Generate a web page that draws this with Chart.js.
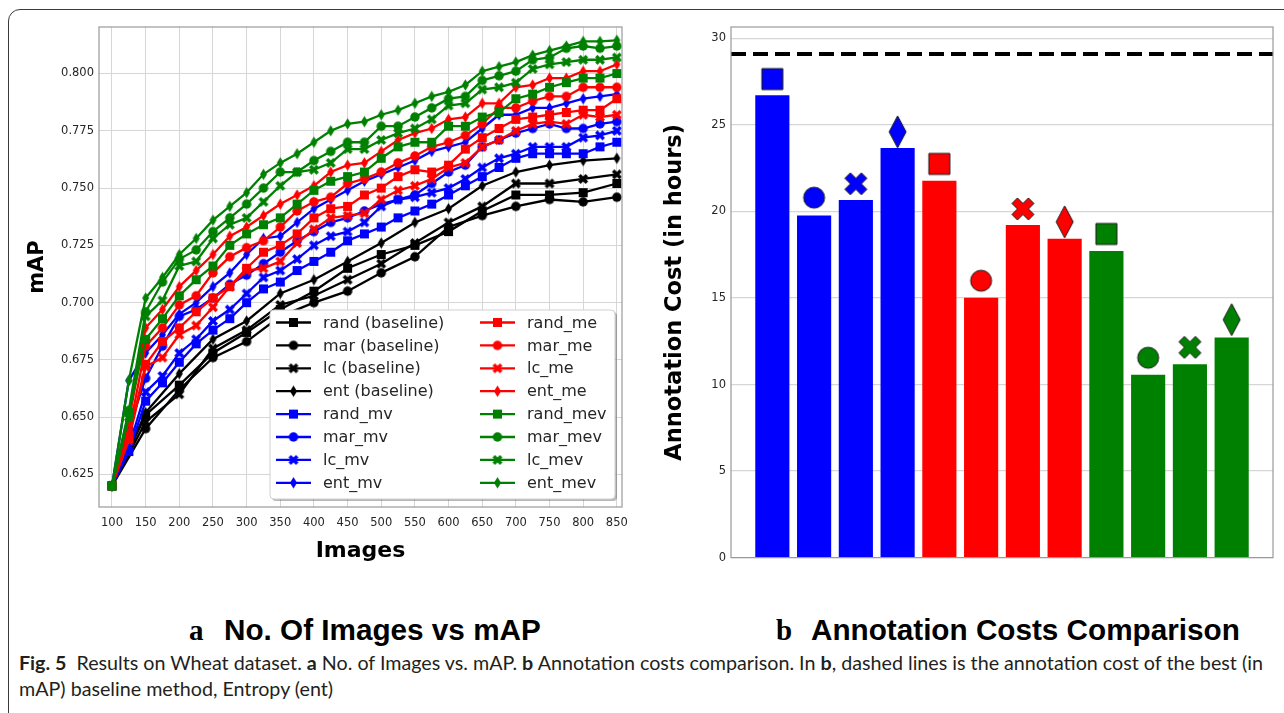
<!DOCTYPE html>
<html>
<head>
<meta charset="utf-8">
<script src="https://cdn.jsdelivr.net/npm/chart.js@4.4.1/dist/chart.umd.min.js"></script>
<style>
  body { margin: 0; width: 1284px; height: 713px; background: #fff; overflow: hidden; position: relative; }
  #frame { position: absolute; left: 8px; top: 9px; width: 1320px; height: 740px; border: 1px solid #3a3a3a; border-radius: 12px; }
  #mapBox { position: absolute; left: 0; top: 0; width: 640px; height: 580px; }
  #costBox { position: absolute; left: 650px; top: 0; width: 634px; height: 590px; }
  .letter { position: absolute; top: 612px; font-family: 'Liberation Serif', serif; font-weight: bold; font-size: 29px; line-height: 36px; color: #000; }
  .sub { position: absolute; top: 612px; font-family: 'Liberation Sans', Arial, sans-serif; font-weight: bold; font-size: 29.7px; line-height: 36px; color: #000; white-space: nowrap; }
  #caption { position: absolute; left: 19px; top: 650px; font-family: 'Lato', sans-serif; font-size: 19.7px; line-height: 26px; color: #231f20; white-space: nowrap; }
</style>
</head>
<body>
<div id="frame"></div>
<div id="mapBox"><canvas id="mapChart" width="640" height="580"></canvas></div>
<div id="costBox"><canvas id="costChart" width="634" height="590"></canvas></div>
<div class="letter" style="left:189px">a</div>
<div class="sub" style="left:224px">No. Of Images vs mAP</div>
<div class="letter" style="left:776px">b</div>
<div class="sub" style="left:811px">Annotation Costs Comparison</div>
<div id="caption"><b>Fig. 5</b>&nbsp;&nbsp;Results on Wheat dataset. <b>a</b> No. of Images vs. mAP. <b>b</b> Annotation costs comparison. In <b>b</b>, dashed lines is the annotation cost of the best (in<br>mAP) baseline method, Entropy (ent)</div>

<script>
// ---- data: panel a (mAP vs number of images) ----
var imagesBaseline = [100, 150, 200, 250, 300, 350, 400, 450, 500, 550, 600, 650, 700, 750, 800, 850];
var imagesMethods = [100, 125, 150, 175, 200, 225, 250, 275, 300, 325, 350, 375, 400, 425, 450, 475,
                     500, 525, 550, 575, 600, 625, 650, 675, 700, 725, 750, 775, 800, 825, 850];

var mapRandBase = [0.620, 0.651, 0.664, 0.678, 0.687, 0.697, 0.705, 0.715, 0.721, 0.725, 0.731, 0.740, 0.747, 0.747, 0.748, 0.752];
var mapMarBase  = [0.620, 0.645, 0.662, 0.676, 0.683, 0.694, 0.700, 0.705, 0.713, 0.720, 0.733, 0.738, 0.742, 0.745, 0.744, 0.746];
var mapLcBase   = [0.620, 0.648, 0.660, 0.680, 0.688, 0.699, 0.703, 0.710, 0.717, 0.726, 0.735, 0.742, 0.752, 0.752, 0.754, 0.756];
var mapEntBase  = [0.620, 0.652, 0.669, 0.684, 0.692, 0.704, 0.710, 0.718, 0.726, 0.735, 0.741, 0.751, 0.757, 0.760, 0.762, 0.763];

var mapRandMv = [0.620, 0.635, 0.657, 0.665, 0.674, 0.682, 0.688, 0.693, 0.700, 0.706, 0.709, 0.714, 0.718, 0.722, 0.727, 0.730,
                 0.733, 0.737, 0.740, 0.743, 0.747, 0.751, 0.755, 0.759, 0.763, 0.765, 0.765, 0.765, 0.765, 0.768, 0.770];
var mapMarMv  = [0.620, 0.645, 0.667, 0.681, 0.694, 0.697, 0.702, 0.708, 0.712, 0.717, 0.722, 0.727, 0.731, 0.735, 0.737, 0.740,
                 0.743, 0.745, 0.747, 0.752, 0.757, 0.760, 0.768, 0.771, 0.774, 0.776, 0.778, 0.776, 0.776, 0.778, 0.779];
var mapLcMv   = [0.620, 0.637, 0.661, 0.668, 0.678, 0.684, 0.692, 0.697, 0.704, 0.711, 0.714, 0.719, 0.725, 0.729, 0.731, 0.735,
                 0.742, 0.745, 0.746, 0.748, 0.750, 0.754, 0.759, 0.763, 0.765, 0.768, 0.768, 0.768, 0.772, 0.773, 0.775];
var mapEntMv  = [0.620, 0.666, 0.678, 0.686, 0.695, 0.700, 0.707, 0.713, 0.721, 0.728, 0.729, 0.735, 0.741, 0.745, 0.749, 0.753,
                 0.756, 0.759, 0.762, 0.766, 0.768, 0.770, 0.776, 0.782, 0.782, 0.785, 0.785, 0.787, 0.789, 0.790, 0.791];

var mapRandMe = [0.620, 0.641, 0.673, 0.683, 0.689, 0.696, 0.702, 0.707, 0.715, 0.722, 0.725, 0.730, 0.737, 0.741, 0.742, 0.747,
                 0.750, 0.755, 0.758, 0.757, 0.760, 0.767, 0.772, 0.776, 0.780, 0.781, 0.782, 0.783, 0.784, 0.784, 0.789];
var mapMarMe  = [0.620, 0.643, 0.681, 0.689, 0.699, 0.703, 0.713, 0.720, 0.724, 0.727, 0.733, 0.740, 0.744, 0.746, 0.752, 0.754,
                 0.757, 0.761, 0.764, 0.768, 0.770, 0.773, 0.778, 0.785, 0.785, 0.788, 0.790, 0.790, 0.794, 0.794, 0.794];
var mapLcMe   = [0.620, 0.640, 0.672, 0.676, 0.686, 0.690, 0.698, 0.707, 0.714, 0.715, 0.718, 0.726, 0.732, 0.737, 0.738, 0.739,
                 0.745, 0.749, 0.751, 0.754, 0.759, 0.761, 0.768, 0.771, 0.775, 0.778, 0.779, 0.778, 0.782, 0.781, 0.782];
var mapEntMe  = [0.620, 0.648, 0.689, 0.697, 0.707, 0.714, 0.721, 0.729, 0.733, 0.738, 0.743, 0.747, 0.751, 0.757, 0.760, 0.761,
                 0.766, 0.771, 0.774, 0.776, 0.780, 0.781, 0.787, 0.787, 0.794, 0.795, 0.798, 0.798, 0.801, 0.801, 0.804];

var mapRandMev = [0.620, 0.652, 0.684, 0.693, 0.703, 0.710, 0.716, 0.725, 0.730, 0.734, 0.737, 0.743, 0.749, 0.753, 0.755, 0.757,
                  0.763, 0.768, 0.770, 0.770, 0.777, 0.777, 0.781, 0.783, 0.789, 0.791, 0.794, 0.796, 0.798, 0.798, 0.800];
var mapMarMev  = [0.620, 0.653, 0.696, 0.709, 0.719, 0.723, 0.731, 0.737, 0.743, 0.750, 0.757, 0.757, 0.762, 0.766, 0.770, 0.770,
                  0.777, 0.777, 0.781, 0.785, 0.789, 0.790, 0.797, 0.799, 0.801, 0.806, 0.807, 0.811, 0.812, 0.811, 0.812];
var mapLcMev   = [0.620, 0.650, 0.694, 0.701, 0.716, 0.718, 0.728, 0.734, 0.737, 0.744, 0.751, 0.757, 0.758, 0.761, 0.767, 0.767,
                  0.771, 0.774, 0.776, 0.780, 0.786, 0.787, 0.793, 0.794, 0.796, 0.802, 0.804, 0.805, 0.806, 0.806, 0.807];
var mapEntMev  = [0.620, 0.666, 0.702, 0.711, 0.721, 0.728, 0.736, 0.742, 0.748, 0.756, 0.761, 0.765, 0.770, 0.775, 0.778, 0.779,
                  0.782, 0.784, 0.787, 0.790, 0.792, 0.795, 0.801, 0.803, 0.805, 0.808, 0.810, 0.812, 0.814, 0.814, 0.8145];

var mapTicks = [0.625, 0.650, 0.675, 0.700, 0.725, 0.750, 0.775, 0.800];
var imageTicks = [100, 150, 200, 250, 300, 350, 400, 450, 500, 550, 600, 650, 700, 750, 800, 850];

// ---- data: panel b (annotation cost in hours) ----
var costLabels = ['rand_mv', 'mar_mv', 'lc_mv', 'ent_mv', 'rand_me', 'mar_me', 'lc_me', 'ent_me',
                  'rand_mev', 'mar_mev', 'lc_mev', 'ent_mev'];
var costHours = [26.7, 19.75, 20.65, 23.65, 21.75, 15.0, 19.2, 18.4, 17.7, 10.55, 11.15, 12.7];
var costMarkerHours = [27.65, 20.8, 21.6, 24.6, 22.75, 16.0, 20.15, 19.4, 18.7, 11.55, 12.15, 13.75];
var entBaselineCost = 29.1;
var costTicks = [0, 5, 10, 15, 20, 25, 30];

// ---- marker images ----
function makeMarker(shape, fill, w, h, edge) {
  var pad = 2;
  var c = document.createElement('canvas');
  c.width = Math.ceil(w + pad * 2);
  c.height = Math.ceil(h + pad * 2);
  var ctx = c.getContext('2d');
  ctx.translate(c.width / 2, c.height / 2);
  ctx.beginPath();
  if (shape === 'square') {
    ctx.rect(-w / 2, -h / 2, w, h);
  } else if (shape === 'circle') {
    ctx.arc(0, 0, w / 2, 0, Math.PI * 2);
  } else if (shape === 'diamond') {
    ctx.moveTo(0, -h / 2); ctx.lineTo(w / 2, 0); ctx.lineTo(0, h / 2); ctx.lineTo(-w / 2, 0); ctx.closePath();
  } else if (shape === 'x') {
    var p = [[-0.25, -0.5], [0, -0.25], [0.25, -0.5], [0.5, -0.25], [0.25, 0], [0.5, 0.25],
             [0.25, 0.5], [0, 0.25], [-0.25, 0.5], [-0.5, 0.25], [-0.25, 0], [-0.5, -0.25]];
    ctx.moveTo(p[0][0] * w, p[0][1] * h);
    for (var i = 1; i < p.length; i++) ctx.lineTo(p[i][0] * w, p[i][1] * h);
    ctx.closePath();
  }
  ctx.fillStyle = fill;
  ctx.fill();
  if (edge) { ctx.lineWidth = 1; ctx.strokeStyle = edge; ctx.stroke(); }
  return c;
}

var shapes = ['square', 'circle', 'x', 'diamond'];
function smallMarker(shape, color) {
  if (shape === 'diamond') return makeMarker(shape, color, 7, 11.5);
  if (shape === 'x') return makeMarker(shape, color, 10, 10);
  if (shape === 'circle') return makeMarker(shape, color, 9.5, 9.5);
  return makeMarker(shape, color, 9, 9);
}
function bigMarker(shape, color) {
  if (shape === 'diamond') return makeMarker(shape, color, 17, 32, '#1a1a1a');
  if (shape === 'x') return makeMarker(shape, color, 22, 22, '#1a1a1a');
  return makeMarker(shape, color, 21, 21, '#1a1a1a');
}

// ---- panel a ----
var mapSeries = [
  ['rand (baseline)', imagesBaseline, mapRandBase, '#000000'],
  ['mar (baseline)', imagesBaseline, mapMarBase, '#000000'],
  ['lc (baseline)', imagesBaseline, mapLcBase, '#000000'],
  ['ent (baseline)', imagesBaseline, mapEntBase, '#000000'],
  ['rand_mv', imagesMethods, mapRandMv, '#0000ff'],
  ['mar_mv', imagesMethods, mapMarMv, '#0000ff'],
  ['lc_mv', imagesMethods, mapLcMv, '#0000ff'],
  ['ent_mv', imagesMethods, mapEntMv, '#0000ff'],
  ['rand_me', imagesMethods, mapRandMe, '#ff0000'],
  ['mar_me', imagesMethods, mapMarMe, '#ff0000'],
  ['lc_me', imagesMethods, mapLcMe, '#ff0000'],
  ['ent_me', imagesMethods, mapEntMe, '#ff0000'],
  ['rand_mev', imagesMethods, mapRandMev, '#008000'],
  ['mar_mev', imagesMethods, mapMarMev, '#008000'],
  ['lc_mev', imagesMethods, mapLcMev, '#008000'],
  ['ent_mev', imagesMethods, mapEntMev, '#008000']
];

var mapDatasets = mapSeries.map(function (s, i) {
  return {
    label: s[0],
    data: s[1].map(function (x, j) { return { x: x, y: s[2][j] }; }),
    borderColor: s[3],
    backgroundColor: s[3],
    borderWidth: 2.3,
    pointStyle: smallMarker(shapes[i % 4], s[3]),
    pointRadius: 4,
    pointHoverRadius: 4,
    tension: 0,
    order: mapSeries.length - i
  };
});

var frame = {
  id: 'frame',
  afterDraw: function (chart) {
    var a = chart.chartArea, ctx = chart.ctx;
    ctx.save();
    ctx.strokeStyle = '#999999';
    ctx.lineWidth = 1.2;
    ctx.strokeRect(a.left, a.top, a.right - a.left, a.bottom - a.top);
    ctx.restore();
  }
};

function roundRect(ctx, x, y, w, h, r) {
  ctx.beginPath();
  ctx.moveTo(x + r, y);
  ctx.arcTo(x + w, y, x + w, y + h, r);
  ctx.arcTo(x + w, y + h, x, y + h, r);
  ctx.arcTo(x, y + h, x, y, r);
  ctx.arcTo(x, y, x + w, y, r);
  ctx.closePath();
}

var mapLegend = {
  id: 'mapLegend',
  afterDatasetsDraw: function (chart) {
    var ctx = chart.ctx, a = chart.chartArea;
    var w = 345, h = 189;
    var x0 = a.right - 7 - w, y0 = a.bottom - 8 - h;
    ctx.save();
    ctx.fillStyle = 'rgba(0,0,0,0.28)';
    roundRect(ctx, x0 + 2, y0 + 2, w, h, 4);
    ctx.fill();
    ctx.fillStyle = '#ffffff';
    roundRect(ctx, x0, y0, w, h, 4);
    ctx.fill();
    ctx.strokeStyle = '#d0d0d0';
    ctx.lineWidth = 1;
    ctx.stroke();
    ctx.font = '16px "DejaVu Sans"';
    ctx.textBaseline = 'middle';
    chart.data.datasets.forEach(function (ds, i) {
      var col = Math.floor(i / 8), row = i % 8;
      var lx = x0 + 6 + col * 204, ly = y0 + 12.5 + row * 22.9;
      ctx.strokeStyle = ds.borderColor;
      ctx.lineWidth = 2.3;
      ctx.beginPath();
      ctx.moveTo(lx, ly);
      ctx.lineTo(lx + 35, ly);
      ctx.stroke();
      var m = ds.pointStyle;
      ctx.drawImage(m, lx + 17.5 - m.width / 2, ly - m.height / 2);
      ctx.fillStyle = '#262626';
      ctx.fillText(ds.label, lx + 47, ly + 1);
    });
    ctx.restore();
  }
};

new Chart(document.getElementById('mapChart'), {
  type: 'line',
  data: { datasets: mapDatasets },
  plugins: [frame, mapLegend],
  options: {
    responsive: false,
    animation: false,
    events: [],
    layout: { padding: { top: 27, right: 18, left: 0, bottom: 0 } },
    plugins: { legend: { display: false }, tooltip: { enabled: false } },
    scales: {
      x: {
        type: 'linear',
        min: 80.7,
        max: 857.7,
        afterBuildTicks: function (s) { s.ticks = imageTicks.map(function (v) { return { value: v }; }); },
        afterFit: function (s) { s.height = 73; },
        grid: { color: '#d6d6d6', lineWidth: 1, drawTicks: false },
        border: { display: false },
        ticks: { font: { family: 'DejaVu Sans', size: 11.5 }, color: '#262626', padding: 9, maxRotation: 0 },
        title: { display: true, text: 'Images', color: '#000', font: { family: 'DejaVu Sans', size: 22, weight: 'bold' }, padding: { bottom: 16 } }
      },
      y: {
        min: 0.6108,
        max: 0.8203,
        afterBuildTicks: function (s) { s.ticks = mapTicks.map(function (v) { return { value: v }; }); },
        afterFit: function (s) { s.width = 99; },
        grid: { color: '#d6d6d6', lineWidth: 1, drawTicks: false },
        border: { display: false },
        ticks: { font: { family: 'DejaVu Sans', size: 11.5 }, color: '#262626', padding: 5,
                 callback: function (v) { return v.toFixed(3); } },
        title: { display: true, text: 'mAP', color: '#000', font: { family: 'DejaVu Sans', size: 21, weight: 'bold' }, padding: { top: 25 } }
      }
    }
  }
});

// ---- panel b ----
var groupColors = ['#0000ff', '#ff0000', '#008000'];
var costColors = costLabels.map(function (l, i) { return groupColors[Math.floor(i / 4)]; });
var costMarkerImgs = costLabels.map(function (l, i) { return bigMarker(shapes[i % 4], costColors[i]); });

var baselineLine = {
  id: 'baselineLine',
  afterDatasetsDraw: function (chart) {
    var ctx = chart.ctx, a = chart.chartArea;
    var y = chart.scales.y.getPixelForValue(entBaselineCost);
    ctx.save();
    ctx.strokeStyle = '#000';
    ctx.lineWidth = 4;
    ctx.setLineDash([15, 7]);
    ctx.beginPath();
    ctx.moveTo(a.left, y);
    ctx.lineTo(a.right, y);
    ctx.stroke();
    ctx.restore();
  }
};

new Chart(document.getElementById('costChart'), {
  type: 'bar',
  data: {
    datasets: [
      {
        type: 'scatter',
        label: 'markers',
        data: costMarkerHours.map(function (v, i) { return { x: i, y: v }; }),
        pointStyle: function (c) { return costMarkerImgs[c.dataIndex]; },
        pointRadius: 10,
        pointHoverRadius: 10,
        order: 0
      },
      {
        type: 'bar',
        label: 'cost',
        data: costHours.map(function (v, i) { return { x: i, y: v }; }),
        backgroundColor: costColors,
        borderWidth: 0,
        barThickness: 33.5,
        order: 1
      }
    ]
  },
  plugins: [frame, baselineLine],
  options: {
    responsive: false,
    animation: false,
    events: [],
    layout: { padding: { top: 27, right: 8.5, left: 0, bottom: 0 } },
    plugins: { legend: { display: false }, tooltip: { enabled: false } },
    scales: {
      x: {
        type: 'linear',
        min: -0.99,
        max: 11.99,
        offset: false,
        afterFit: function (s) { s.height = 32.4; },
        grid: { display: false },
        border: { display: false },
        ticks: { display: false }
      },
      y: {
        min: 0,
        max: 30.66,
        afterBuildTicks: function (s) { s.ticks = costTicks.map(function (v) { return { value: v }; }); },
        afterFit: function (s) { s.width = 81; },
        grid: { color: '#d6d6d6', lineWidth: 1.2, drawTicks: false },
        border: { display: false },
        ticks: { font: { family: 'DejaVu Sans', size: 11.5 }, color: '#262626', padding: 5 },
        title: { display: true, text: 'Annotation Cost (in hours)', color: '#000', font: { family: 'DejaVu Sans', size: 22.5, weight: 'bold' }, padding: { top: 12 } }
      }
    }
  }
});
</script>
</body>
</html>
